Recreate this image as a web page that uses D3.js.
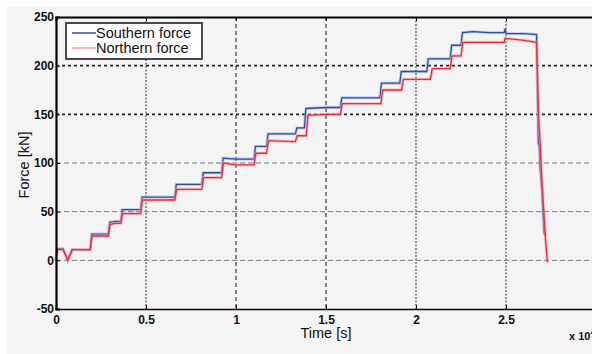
<!DOCTYPE html>
<html>
<head>
<meta charset="utf-8">
<script src="https://cdn.jsdelivr.net/npm/d3@7"></script>
<style>
  body { margin: 0; background: #fff; }
  svg { display: block; font-family: "Liberation Sans", Arial, sans-serif; }
  .tick text { font-size: 12px; font-weight: bold; fill: #111; }
</style>
</head>
<body>
<div class="chart"></div>
<script>
// time in units of 10^4 s, force in kN
const seriesNames = ["Southern force", "Northern force"];

const southT = [0, 0.008, 0.04, 0.065, 0.09, 0.19, 0.198, 0.29, 0.298, 0.33, 0.36, 0.368, 0.47, 0.478, 0.66, 0.668,
  0.81, 0.818, 0.92, 0.928, 1.0, 1.1, 1.108, 1.17, 1.178, 1.33, 1.338, 1.38, 1.388, 1.5, 1.58, 1.588,
  1.8, 1.808, 1.91, 1.918, 2.06, 2.068, 2.19, 2.198, 2.25, 2.258, 2.32, 2.4, 2.49, 2.495, 2.5, 2.6,
  2.67, 2.673, 2.676, 2.68, 2.685, 2.69, 2.70, 2.705, 2.712, 2.72];
const southV = [0, 12, 12, 0, 11, 11, 27, 27, 39, 40, 40, 52, 52, 65, 65, 78,
  78, 90, 90, 105, 104, 104, 117, 117, 130, 130, 136, 136, 156, 157, 157, 167,
  167, 182, 182, 194, 194, 207, 207, 221, 221, 234, 235, 234, 234, 238, 233, 233,
  232, 195, 160, 120, 118, 95, 70, 50, 28, 25];

const northT = [0, 0.008, 0.04, 0.065, 0.09, 0.19, 0.2, 0.29, 0.3, 0.33, 0.36, 0.37, 0.47, 0.48, 0.66, 0.67,
  0.81, 0.82, 0.92, 0.93, 1.0, 1.1, 1.11, 1.17, 1.18, 1.33, 1.34, 1.39, 1.4, 1.5, 1.58, 1.59,
  1.805, 1.815, 1.92, 1.93, 2.08, 2.09, 2.19, 2.2, 2.25, 2.26, 2.35, 2.49, 2.495, 2.6,
  2.67, 2.675, 2.68, 2.69, 2.70, 2.71, 2.72, 2.73];
const northV = [0, 11, 11, 0, 11, 11, 25, 25, 37, 38, 38, 48, 48, 62, 62, 73,
  73, 85, 85, 100, 98, 98, 110, 110, 123, 122, 128, 128, 149, 150, 150, 161,
  161, 175, 175, 186, 186, 197, 197, 210, 210, 224, 224, 224, 228, 226,
  224, 190, 150, 120, 80, 50, 20, -2];

const yTicks = [-50, 0, 50, 100, 150, 200, 250];
const xTicks = [0, 0.5, 1, 1.5, 2, 2.5];

const W = 592, H = 354;
const margin = {top: 17, left: 56};
const plotW = 540, plotH = 292;

const svg = d3.select(".chart").append("svg")
  .attr("width", W).attr("height", H);

// figure background
svg.append("rect").attr("x", 7).attr("y", 6).attr("width", W - 7).attr("height", H - 6)
  .attr("fill", "#f4f4f4");

const g = svg.append("g").attr("transform", `translate(${margin.left},${margin.top})`);

const x = d3.scaleLinear().domain([0, 3]).range([0, plotW]);
const y = d3.scaleLinear().domain([-50, 250]).range([plotH, 0]);

// grid lines - styles vary like the scanned original
const hStyle = v => (v >= 150) ? {c: "#222", w: 1.6, d: "3,3"} : {c: "#777", w: 1, d: "5,3"};
const vStyle = v => (v === 1 || v === 1.5) ? {c: "#111", w: 1, d: "4,3"} : {c: "#888", w: 1.8, d: "2,1.5"};

g.selectAll(".hgrid").data(yTicks.filter(v => v > -50 && v < 250)).enter().append("line")
  .attr("x1", 0).attr("x2", plotW)
  .attr("y1", d => y(d)).attr("y2", d => y(d))
  .attr("stroke", d => hStyle(d).c).attr("stroke-width", d => hStyle(d).w)
  .attr("stroke-dasharray", d => hStyle(d).d);

g.selectAll(".vgrid").data(xTicks.filter(v => v > 0)).enter().append("line")
  .attr("y1", 0).attr("y2", plotH)
  .attr("x1", d => x(d)).attr("x2", d => x(d))
  .attr("stroke", d => vStyle(d).c).attr("stroke-width", d => vStyle(d).w)
  .attr("stroke-dasharray", d => vStyle(d).d);

// data lines
const line = d3.line().x(d => x(d[0])).y(d => y(d[1]));
const south = southT.map((t, i) => [t, southV[i]]);
const north = northT.map((t, i) => [t, northV[i]]);

g.append("path").datum(south).attr("d", line).attr("fill", "none")
  .attr("stroke", "#9fb0dc").attr("stroke-width", 3).attr("opacity", 0.6);
g.append("path").datum(south).attr("d", line).attr("fill", "none")
  .attr("stroke", "#2f4fa8").attr("stroke-width", 1.3);
g.append("path").datum(north).attr("d", line).attr("fill", "none")
  .attr("stroke", "#f7a0a8").attr("stroke-width", 3).attr("opacity", 0.6);
g.append("path").datum(north).attr("d", line).attr("fill", "none")
  .attr("stroke", "#ee2a3c").attr("stroke-width", 1.3);

// axes
g.append("g").attr("class", "axis y-axis")
  .call(d3.axisLeft(y).tickValues(yTicks).tickSize(-4).tickPadding(2).tickFormat(d => String(d)))
  .call(a => a.select(".domain").attr("stroke-width", 2.2));
g.append("g").attr("class", "axis x-axis")
  .attr("transform", `translate(0,${plotH})`)
  .call(d3.axisBottom(x).tickValues(xTicks).tickSize(-4).tickPadding(6).tickFormat(d => String(d)))
  .call(a => a.select(".domain").attr("stroke-width", 1.6));
g.append("g").attr("transform", "translate(0,0)")
  .call(d3.axisTop(x).tickValues(xTicks).tickSize(-4).tickFormat(""))
  .call(a => a.select(".domain").attr("stroke-width", 2.2));
g.selectAll(".axis .tick line").attr("stroke", "#111");

// axis labels
svg.append("text").attr("x", margin.left + x(1.5)).attr("y", 338)
  .attr("text-anchor", "middle").attr("font-size", 14.5).attr("fill", "#111")
  .text("Time [s]");
svg.append("text").attr("transform", "translate(29,165) rotate(-90)")
  .attr("text-anchor", "middle").attr("font-size", 14.5).attr("fill", "#111")
  .text("Force [kN]");
svg.append("text").attr("x", 569).attr("y", 340)
  .attr("font-size", 11).attr("font-weight", "bold").attr("fill", "#111")
  .text("x 10").append("tspan").attr("dy", -5).attr("font-size", 8).text("4");

// legend
const leg = svg.append("g").attr("transform", "translate(66,23)");
leg.append("rect").attr("width", 136).attr("height", 36)
  .attr("fill", "#fff").attr("stroke", "#111").attr("stroke-width", 1.5);
const legColors = ["#2f4fa8", "#f5a0a8"];
seriesNames.forEach((name, i) => {
  leg.append("line").attr("x1", 6).attr("x2", 30).attr("y1", 10 + i * 15).attr("y2", 10 + i * 15)
    .attr("stroke", legColors[i]).attr("stroke-width", 1.5);
  leg.append("text").attr("x", 30).attr("y", 15 + i * 15)
    .attr("font-size", 14.5).attr("fill", "#111").text(name);
});
</script>
</body>
</html>
